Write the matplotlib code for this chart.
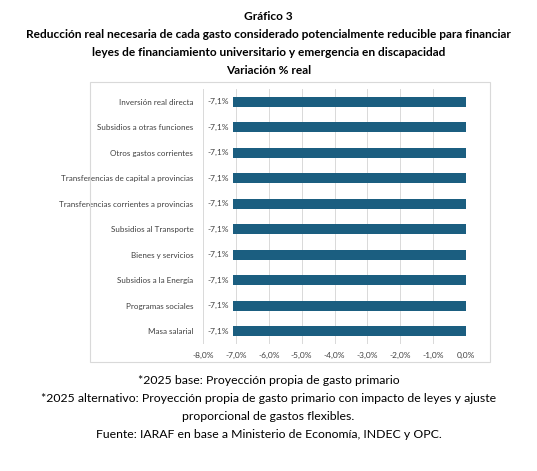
import matplotlib
matplotlib.use("Agg")
import matplotlib.pyplot as plt
from matplotlib.patches import Rectangle
from matplotlib.ticker import FuncFormatter

CATEGORIES = [
    "Masa salarial",
    "Programas sociales",
    "Subsidios a la Energía",
    "Bienes y servicios",
    "Subsidios al Transporte",
    "Transferencias corrientes a provincias",
    "Transferencias de capital a provincias",
    "Otros gastos corrientes",
    "Subsidios a otras funciones",
    "Inversión real directa",
]
VALUES = [-7.1] * 10
XTICKS = [-8, -7, -6, -5, -4, -3, -2, -1, 0]

TITLE = [
    "Gráfico 3",
    "Reducción real necesaria de cada gasto considerado potencialmente reducible para financiar",
    "leyes de financiamiento universitario y emergencia en discapacidad",
    "Variación % real",
]
FOOTER = [
    "*2025 base: Proyección propia de gasto primario",
    "*2025 alternativo: Proyección propia de gasto primario con impacto de leyes y ajuste",
    "proporcional de gastos flexibles.",
    "Fuente: IARAF en base a Ministerio de Economía, INDEC y OPC.",
]

W, H = 537, 471
fig = plt.figure(figsize=(W / 100, H / 100), dpi=100)
fig.patch.set_facecolor("white")
plt.rcParams["font.family"] = ["Lato", "DejaVu Sans"]

# chart frame
fig.add_artist(Rectangle((90 / W, 1 - 362 / H), 400 / W, 280 / H, transform=fig.transFigure,
                         fill=False, ec="#d9d9d9", lw=0.8))

ax = fig.add_axes([203 / W, 1 - 344 / H, 263 / W, 255 / H])
ypos = range(len(CATEGORIES))
ax.barh(ypos, VALUES, height=0.38, color="#1b5e80", zorder=3)
for y, v in zip(ypos, VALUES):
    ax.text(v - 0.12, y, f"{v:.1f}%".replace(".", ","), ha="right", va="center",
            fontsize=6, color="#404040")
ax.set_xlim(-8, 0)
ax.set_ylim(-0.5, len(CATEGORIES) - 0.5)
ax.set_xticks(XTICKS)
ax.xaxis.set_major_formatter(FuncFormatter(lambda x, _: f"{x:.1f}%".replace(".", ",")))
ax.set_yticks(list(ypos))
ax.set_yticklabels(CATEGORIES)
ax.tick_params(axis="both", length=0, labelsize=6, labelcolor="#404040")
ax.tick_params(axis="y", pad=7, labelsize=5.8)
ax.tick_params(axis="x", pad=6)
ax.grid(axis="x", color="#d9d9d9", lw=0.7, zorder=0)
for s in ax.spines.values():
    s.set_visible(False)

for i, t in enumerate(TITLE):
    fig.text(0.5, 1 - (16 + 18 * i) / H, t, ha="center", va="center",
             fontsize=8.6, fontweight="bold")
for i, t in enumerate(FOOTER):
    fig.text(0.5, 1 - (380 + 18 * i) / H, t, ha="center", va="center",
             fontsize=8.8)

fig.savefig("out.png", dpi=100)
